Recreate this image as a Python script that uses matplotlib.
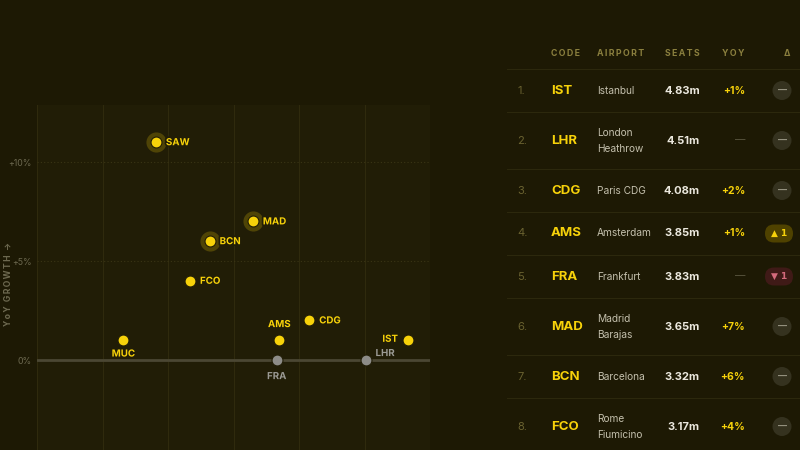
import matplotlib
matplotlib.use('Agg')
from matplotlib import pyplot as plt
from matplotlib import patheffects as pe
from matplotlib.patches import Circle, FancyBboxPatch

# scatter data (seats in millions, yoy growth in %)
codes = ['IST', 'LHR', 'CDG', 'AMS', 'FRA', 'MAD', 'BCN', 'FCO', 'SAW', 'MUC']
seats = [4.83, 4.51, 4.08, 3.85, 3.83, 3.65, 3.32, 3.17, 2.91, 2.66]
yoy = [1, 0, 2, 1, 0, 7, 6, 4, 11, 1]

# table data (top 8)
ranks = [1, 2, 3, 4, 5, 6, 7, 8]
names = ['Istanbul', 'London\nHeathrow', 'Paris CDG', 'Amsterdam', 'Frankfurt',
         'Madrid\nBarajas', 'Barcelona', 'Rome\nFiumicino']
rank_change = [0, 0, 0, 1, -1, 0, 0, 0]
highlight = ['SAW', 'MAD', 'BCN']

BG = '#1d1904'
AX_BG = '#211d06'
YELLOW = '#f7d20a'
GRAY_DOT = '#8d8c88'
GRID = '#2f2a0d'

plt.rcParams['font.family'] = ['Inter', 'DejaVu Sans']

fig = plt.figure(figsize=(8, 4.5), dpi=100)
fig.patch.set_facecolor(BG)

# ---- scatter ----
ax = fig.add_axes([37 / 800, 1 - 459 / 450, 393 / 800, 354.4 / 450])
ax.set_facecolor(AX_BG)
ax.set_xlim(2.0, 5.0)
ax.set_ylim(-5, 12.9)
for s in ax.spines.values():
    s.set_visible(False)
for xv in [2.0, 2.5, 3.0, 3.5, 4.0, 4.5, 5.0]:
    ax.axvline(xv, color=GRID, lw=0.8, zorder=0)
for yv in [5, 10]:
    ax.axhline(yv, color='#3a3515', lw=0.8, ls=(0, (1, 2)), zorder=0)
ax.axhline(0, color='#4b4733', lw=2, zorder=1)
ax.set_xticks([])
ax.set_yticks([0, 5, 10])
ax.set_yticklabels(['0%', '+5%', '+10%'])
ax.tick_params(axis='y', length=0, pad=4, labelsize=6.3, labelcolor='#6d6950')

fig.text(8 / 800, 1 - 284 / 450, '\u2009'.join('YoY') + '\u2002' + '\u2009'.join('GROWTH') + '\u2002→',
         rotation=90, ha='center', va='center', fontsize=6.2, color='#6d6950', fontweight='bold')

offsets = {'IST': (-7, 1, 'right', 'center'), 'LHR': (7, 5, 'left', 'center'),
           'CDG': (7, 0, 'left', 'center'), 'AMS': (0, 8, 'center', 'bottom'),
           'FRA': (0, -8, 'center', 'top'), 'MAD': (7, 0, 'left', 'center'),
           'BCN': (7, 0, 'left', 'center'), 'FCO': (7, 0, 'left', 'center'),
           'SAW': (7, 0, 'left', 'center'), 'MUC': (0, -6, 'center', 'top')}

stroke = [pe.withStroke(linewidth=2.5, foreground=AX_BG)]
for c, x, y in zip(codes, seats, yoy):
    col = GRAY_DOT if y == 0 else YELLOW
    if c in highlight:
        ax.scatter(x, y, s=210, color=YELLOW, alpha=0.22, lw=0, zorder=2)
    ax.scatter(x, y, s=62, color=col, edgecolor=AX_BG, lw=0.8, zorder=3)
    dx, dy, ha, va = offsets[c]
    tcol = '#9b9a94' if y == 0 else YELLOW
    ax.annotate(c, (x, y), xytext=(dx, dy), textcoords='offset points', ha=ha, va=va,
                fontsize=7, fontweight='bold', color=tcol, path_effects=stroke, zorder=4)

# ---- table ----
tb = fig.add_axes([0, 0, 1, 1])
tb.set_xlim(0, 800)
tb.set_ylim(450, 0)
tb.axis('off')
tb.patch.set_alpha(0)

HEAD = '#8a7f3e'
for txt, xx, ha in [('CODE', 551, 'left'), ('AIRPORT', 597, 'left'),
                    ('SEATS', 700, 'right'), ('YOY', 745, 'right'), ('Δ', 787, 'center')]:
    tb.text(xx, 53, '\u2009'.join(txt), ha=ha, va='center', fontsize=6.3,
            color=HEAD, fontweight='bold')

line_col = '#2c280d'
y = 69
tb.plot([507, 800], [y, y], color=line_col, lw=0.8)
for i in range(len(ranks)):
    h = 57 if '\n' in names[i] else 43
    cy = y + h / 2
    tb.text(517, cy, f'{ranks[i]}.', ha='left', va='center', fontsize=8, color='#6a6230')
    tb.text(551, cy, codes[i], ha='left', va='center', fontsize=9.5,
            fontweight='bold', color=YELLOW)
    tb.text(597, cy, names[i], ha='left', va='center', fontsize=7.3,
            color='#c3bfac', linespacing=1.75)
    tb.text(700, cy, f'{seats[i]:.2f}m', ha='right', va='center', fontsize=8,
            fontweight='bold', color='#ebe8de')
    if yoy[i] == 0:
        tb.text(745, cy, '—', ha='right', va='center', fontsize=7.5, color='#5a5640')
    else:
        tb.text(745, cy, f'+{yoy[i]}%', ha='right', va='center', fontsize=7.5,
                fontweight='bold', color=YELLOW)
    rc = rank_change[i]
    if rc == 0:
        tb.add_patch(Circle((782, cy), 9.5, color='#35321f', lw=0))
        tb.text(782, cy, '—', ha='center', va='center', fontsize=6.5,
                color='#9a9785', fontweight='bold')
    else:
        fc, tc, sym = ('#4f4200', YELLOW, '▲') if rc > 0 else ('#3f1a17', '#d46a7c', '▼')
        tb.add_patch(FancyBboxPatch((765, cy - 9), 28, 18,
                                    boxstyle='round,pad=0,rounding_size=9',
                                    fc=fc, ec='none'))
        tb.text(779, cy, f'{sym} {abs(rc)}', ha='center', va='center', fontsize=6.5,
                color=tc, fontweight='bold', family=['DejaVu Sans'])
    y += h
    tb.plot([507, 800], [y, y], color=line_col, lw=0.8)

plt.savefig('out.png', dpi=100, facecolor=BG)
plt.close()
